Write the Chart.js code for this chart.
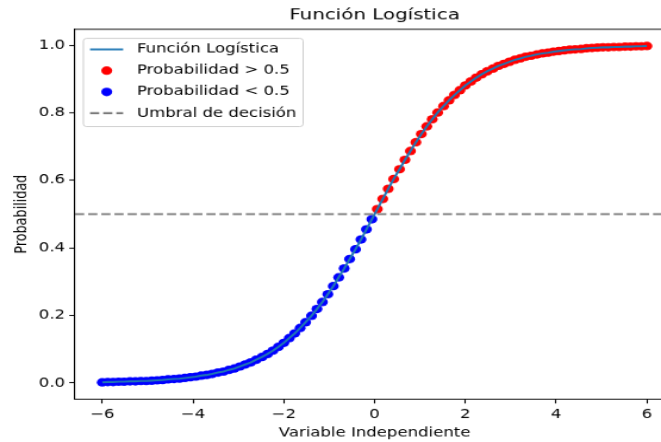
<!DOCTYPE html>
<html>
<head>
<meta charset="utf-8">
<script src="https://cdn.jsdelivr.net/npm/chart.js@4.4.1/dist/chart.umd.min.js"></script>
<style>
  html, body { margin: 0; padding: 0; background: #fff; overflow: hidden; width: 661px; height: 442px; }
  #wrap { width: 580px; height: 480px; transform: scale(1.191, 0.9208); transform-origin: 0 0; }
</style>
</head>
<body>
<div id="wrap"><canvas id="chartLogistica" width="580" height="480"></canvas></div>
<script>
var valoresX = [
  -6.00, -5.88, -5.76, -5.64, -5.52, -5.39, -5.27, -5.15, -5.03, -4.91,
  -4.79, -4.67, -4.55, -4.42, -4.30, -4.18, -4.06, -3.94, -3.82, -3.70,
  -3.58, -3.45, -3.33, -3.21, -3.09, -2.97, -2.85, -2.73, -2.61, -2.48,
  -2.36, -2.24, -2.12, -2.00, -1.88, -1.76, -1.64, -1.52, -1.39, -1.27,
  -1.15, -1.03, -0.91, -0.79, -0.67, -0.55, -0.42, -0.30, -0.18, -0.06,
  0.06, 0.18, 0.30, 0.42, 0.55, 0.67, 0.79, 0.91, 1.03, 1.15,
  1.27, 1.39, 1.52, 1.64, 1.76, 1.88, 2.00, 2.12, 2.24, 2.36,
  2.48, 2.61, 2.73, 2.85, 2.97, 3.09, 3.21, 3.33, 3.45, 3.58,
  3.70, 3.82, 3.94, 4.06, 4.18, 4.30, 4.42, 4.55, 4.67, 4.79,
  4.91, 5.03, 5.15, 5.27, 5.39, 5.52, 5.64, 5.76, 5.88, 6.00
];
var probabilidad = [
  0.002, 0.003, 0.003, 0.004, 0.004, 0.005, 0.005, 0.006, 0.006, 0.007,
  0.008, 0.009, 0.011, 0.012, 0.013, 0.015, 0.017, 0.019, 0.022, 0.024,
  0.027, 0.031, 0.034, 0.039, 0.043, 0.049, 0.055, 0.061, 0.069, 0.077,
  0.086, 0.096, 0.107, 0.119, 0.133, 0.147, 0.163, 0.180, 0.199, 0.219,
  0.240, 0.263, 0.287, 0.313, 0.339, 0.367, 0.396, 0.425, 0.455, 0.485,
  0.515, 0.545, 0.575, 0.604, 0.633, 0.661, 0.687, 0.713, 0.737, 0.760,
  0.781, 0.801, 0.820, 0.837, 0.853, 0.867, 0.881, 0.893, 0.904, 0.914,
  0.923, 0.931, 0.939, 0.945, 0.951, 0.957, 0.961, 0.966, 0.969, 0.973,
  0.976, 0.978, 0.981, 0.983, 0.985, 0.987, 0.988, 0.989, 0.991, 0.992,
  0.993, 0.994, 0.994, 0.995, 0.995, 0.996, 0.996, 0.997, 0.997, 0.998
];
var umbral = 0.5;
var ticksX = [-6, -4, -2, 0, 2, 4, 6];
var ticksY = [0, 0.2, 0.4, 0.6, 0.8, 1.0];
var limX = [-6.6, 6.6];
var limY = [-0.0473, 1.0473];

var fuente = "'DejaVu Sans', sans-serif";

var curva = valoresX.map(function (x, i) { return { x: x, y: probabilidad[i] }; });
var puntosAltos = curva.filter(function (p) { return p.y > umbral; });
var puntosBajos = curva.filter(function (p) { return p.y < umbral; });

// titulo, marco superior/derecho y leyenda dentro del area
var titulosYLeyenda = {
  id: 'titulosYLeyenda',
  afterDraw: function (chart) {
    var ctx = chart.ctx, a = chart.chartArea;
    ctx.save();
    ctx.strokeStyle = '#000';
    ctx.lineWidth = 1.11;
    ctx.beginPath();
    ctx.moveTo(a.left, a.top);
    ctx.lineTo(a.right, a.top);
    ctx.lineTo(a.right, a.bottom);
    ctx.stroke();

    ctx.fillStyle = '#000';
    ctx.font = "16.67px " + fuente;
    ctx.textAlign = 'center';
    ctx.textBaseline = 'middle';
    ctx.fillText('Función Logística', (a.left + a.right) / 2, 16.3);

    // leyenda
    ctx.font = "13.89px " + fuente;
    var ds = chart.data.datasets;
    var anchoTexto = 0;
    ds.forEach(function (d) { anchoTexto = Math.max(anchoTexto, ctx.measureText(d.label).width); });
    var x0 = a.left + 7, y0 = 41.6, paso = 23.1;
    var w = 45 + anchoTexto + 5.6, h = 12 + paso * (ds.length - 1) + 14.6;
    ctx.beginPath();
    ctx.roundRect(x0, y0, w, h, 2.8);
    ctx.fillStyle = 'rgba(255,255,255,0.8)';
    ctx.fill();
    ctx.strokeStyle = '#cccccc';
    ctx.lineWidth = 1;
    ctx.stroke();

    ds.forEach(function (d, i) {
      var y = y0 + 12 + paso * i;
      var hx = x0 + 5.6;
      if (d.showLine) {
        ctx.beginPath();
        ctx.setLineDash(d.borderDash || []);
        ctx.strokeStyle = d.borderColor;
        ctx.lineWidth = d.borderWidth;
        ctx.moveTo(hx, y);
        ctx.lineTo(hx + 27.8, y);
        ctx.stroke();
        ctx.setLineDash([]);
      } else {
        ctx.beginPath();
        ctx.fillStyle = d.backgroundColor;
        ctx.arc(hx + 14, y, d.pointRadius, 0, Math.PI * 2);
        ctx.fill();
      }
      ctx.fillStyle = '#000';
      ctx.textAlign = 'left';
      ctx.textBaseline = 'middle';
      ctx.fillText(d.label, x0 + 45, y);
    });
    ctx.restore();
  }
};

var ctx = document.getElementById('chartLogistica').getContext('2d');
var myChart = new Chart(ctx, {
  type: 'scatter',
  data: {
    datasets: [{
      label: 'Función Logística',
      data: curva,
      showLine: true,
      borderColor: '#1f77b4',
      backgroundColor: '#1f77b4',
      borderWidth: 2.08,
      pointRadius: 0,
      tension: 0,
      order: 1
    }, {
      label: 'Probabilidad > 0.5',
      data: puntosAltos,
      backgroundColor: '#ff0000',
      borderColor: '#ff0000',
      borderWidth: 0,
      pointRadius: 4.6,
      order: 2
    }, {
      label: 'Probabilidad < 0.5',
      data: puntosBajos,
      backgroundColor: '#0000ff',
      borderColor: '#0000ff',
      borderWidth: 0,
      pointRadius: 4.6,
      order: 2
    }, {
      label: 'Umbral de decisión',
      data: [{ x: limX[0], y: umbral }, { x: limX[1], y: umbral }],
      showLine: true,
      borderColor: '#7a7a7a',
      backgroundColor: '#7a7a7a',
      borderWidth: 2.08,
      borderDash: [7.7, 3.33],
      pointRadius: 0,
      order: 0
    }]
  },
  options: {
    responsive: false,
    animation: false,
    events: [],
    layout: { padding: { top: 31.8, right: 14, left: 0, bottom: 0 } },
    plugins: {
      legend: { display: false },
      title: { display: false },
      tooltip: { enabled: false }
    },
    scales: {
      x: {
        type: 'linear',
        min: limX[0],
        max: limX[1],
        afterBuildTicks: function (s) { s.ticks = ticksX.map(function (v) { return { value: v }; }); },
        afterFit: function (s) { s.height = 46.7; },
        grid: { drawOnChartArea: false, tickLength: 4.86, tickWidth: 1.11, tickColor: '#000' },
        border: { color: '#000', width: 1.11 },
        ticks: {
          padding: 4,
          color: '#000',
          maxRotation: 0,
          font: { family: fuente, size: 13.89 },
          callback: function (v) { return String(v).replace('-', '\u2212'); }
        },
        title: {
          display: true,
          text: 'Variable Independiente',
          color: '#000',
          font: { family: fuente, size: 13.89 },
          padding: { top: 0, bottom: 1.5 }
        }
      },
      y: {
        min: limY[0],
        max: limY[1],
        afterBuildTicks: function (s) { s.ticks = ticksY.map(function (v) { return { value: v }; }); },
        afterFit: function (s) { s.width = 63; },
        grid: { drawOnChartArea: false, tickLength: 4.86, tickWidth: 1.11, tickColor: '#000' },
        border: { color: '#000', width: 1.11 },
        ticks: {
          padding: 3.5,
          color: '#000',
          font: { family: fuente, size: 13.89 },
          callback: function (v) { return v.toFixed(1); }
        },
        title: {
          display: true,
          text: 'Probabilidad',
          color: '#000',
          font: { family: fuente, size: 13.89 },
          padding: { top: 9.9, bottom: 0 }
        }
      }
    }
  },
  plugins: [titulosYLeyenda]
});
</script>
</body>
</html>
